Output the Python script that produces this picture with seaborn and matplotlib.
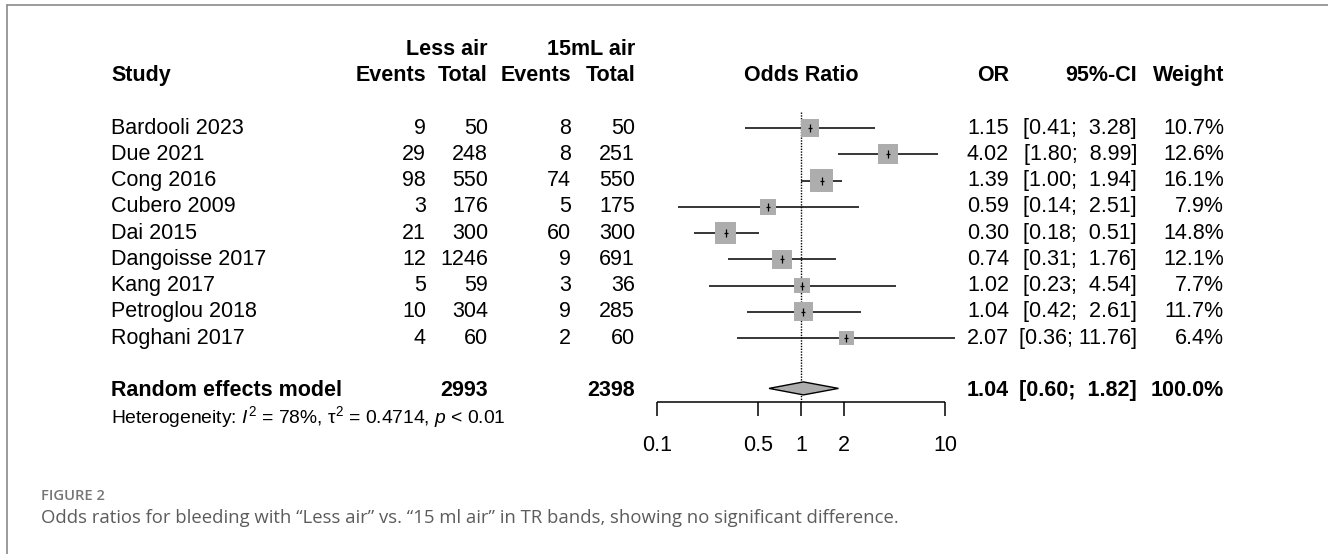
import numpy as np
import pandas as pd
import matplotlib
matplotlib.use("Agg")
import matplotlib.pyplot as plt
import matplotlib.transforms as mtransforms
from matplotlib.lines import Line2D
import seaborn as sns

sns.set_theme(style="white")
plt.rcParams['font.family'] = ['Liberation Sans', 'DejaVu Sans']
plt.rcParams['mathtext.fontset'] = 'custom'
plt.rcParams['mathtext.rm'] = 'Liberation Sans'
plt.rcParams['mathtext.it'] = 'Liberation Sans:italic'

# ---- data ----
studies = ["Bardooli 2023", "Due 2021", "Cong 2016", "Cubero 2009", "Dai 2015",
           "Dangoisse 2017", "Kang 2017", "Petroglou 2018", "Roghani 2017"]
events_less = [9, 29, 98, 3, 21, 12, 5, 10, 4]
total_less = [50, 248, 550, 176, 300, 1246, 59, 304, 60]
events_air = [8, 8, 74, 5, 60, 9, 3, 9, 2]
total_air = [50, 251, 550, 175, 300, 691, 36, 285, 60]
odds_ratio = [1.15, 4.02, 1.39, 0.59, 0.30, 0.74, 1.02, 1.04, 2.07]
ci_low = [0.41, 1.80, 1.00, 0.14, 0.18, 0.31, 0.23, 0.42, 0.36]
ci_high = [3.28, 8.99, 1.94, 2.51, 0.51, 1.76, 4.54, 2.61, 11.76]
weight = [10.7, 12.6, 16.1, 7.9, 14.8, 12.1, 7.7, 11.7, 6.4]

pooled_or, pooled_low, pooled_high = 1.04, 0.60, 1.82
pooled_total_less, pooled_total_air = 2993, 2398
axis_ticks = [0.1, 0.5, 1, 2, 10]
axis_labels = ["0.1", "0.5", "1", "2", "10"]

df = pd.DataFrame({"study": studies, "OR": odds_ratio, "lo": ci_low,
                   "hi": ci_high, "w": weight})
df["row"] = np.arange(len(df))

# ---- layout ----
W, H = 1328, 554
row0_px, row_px = 128, 26.25
fs = 15.5
fig = plt.figure(figsize=(W / 100, H / 100), dpi=100)
ax = fig.add_axes([657 / W, 0, (945 - 657) / W, 1])
ax.set_xscale('log')
ax.set_xlim(0.1, 10)
ax.set_ylim((H - row0_px) / row_px, -row0_px / row_px)
ax.axis('off')
blend = mtransforms.blended_transform_factory(fig.transFigure, ax.transData)


def put(x_px, row, s, ha='right', bold=False, size=fs, **kw):
    ax.text(x_px / W, row, s, transform=blend, ha=ha, va='center', fontsize=size,
            fontweight='bold' if bold else 'normal', color='black', **kw)


# headers
put(488, -3, "Less air", bold=True)
put(635, -3, "15mL air", bold=True)
put(111, -2, "Study", ha='left', bold=True)
put(426, -2, "Events", bold=True)
put(488, -2, "Total", bold=True)
put(571, -2, "Events", bold=True)
put(635, -2, "Total", bold=True)
put(801, -2, "Odds Ratio", ha='center', bold=True)
put(1009, -2, "OR", bold=True)
put(1137, -2, "95%-CI", bold=True)
put(1224, -2, "Weight", bold=True)

for i in range(len(df)):
    put(111, i, studies[i], ha='left')
    put(426, i, str(events_less[i]))
    put(488, i, str(total_less[i]))
    put(571, i, str(events_air[i]))
    put(635, i, str(total_air[i]))
    put(1009, i, f"{odds_ratio[i]:.2f}")
    put(1137, i, f"[{ci_low[i]:.2f}; {ci_high[i]:5.2f}]")
    put(1224, i, f"{weight[i]:.1f}%")

summary_row = len(df) + 1
put(111, summary_row, "Random effects model", ha='left', bold=True)
put(488, summary_row, str(pooled_total_less), bold=True)
put(635, summary_row, str(pooled_total_air), bold=True)
put(1009, summary_row, f"{pooled_or:.2f}", bold=True)
put(1137, summary_row, f"[{pooled_low:.2f}; {pooled_high:5.2f}]", bold=True)
put(1224, summary_row, "100.0%", bold=True)
put(111, summary_row + 1,
    r"Heterogeneity: $\mathit{I}^2$ = 78%, τ$^2$ = 0.4714, $\mathit{p}$ < 0.01",
    ha='left', size=13.9)

# ---- forest ----
axis_row = summary_row + 0.44
tick_len = 14 / row_px
ax.vlines(1, -0.61, axis_row, color='black', lw=1, linestyles=(0, (1, 1)),
          clip_on=False, zorder=1)
ax.hlines(df["row"], df["lo"], df["hi"], color='black', lw=1.1,
          clip_on=False, zorder=2)
side_px = 5.6 * np.sqrt(df["w"])
sns.scatterplot(data=df, x="OR", y="row", marker='s', color='#adadad',
                s=(side_px * 0.72) ** 2, linewidth=0, ax=ax, zorder=3,
                clip_on=False, legend=False)
ax.scatter(df["OR"], df["row"], marker='|', s=(8 * 0.72) ** 2, color='black',
           linewidths=0.9, zorder=4, clip_on=False)
ax.scatter(df["OR"], df["row"], marker='_', s=(5 * 0.72) ** 2, color='black',
           linewidths=0.9, zorder=4, clip_on=False)
dh = 6.5 / row_px
ax.fill([pooled_low, pooled_or, pooled_high, pooled_or],
        [summary_row - 0.08, summary_row - 0.08 - dh, summary_row - 0.08,
         summary_row - 0.08 + dh],
        facecolor='#adadad', edgecolor='black', lw=1, zorder=3, clip_on=False)

# axis
ax.hlines(axis_row, axis_ticks[0], axis_ticks[-1], color='black', lw=1.1,
          clip_on=False)
ax.vlines(axis_ticks, axis_row, axis_row + tick_len, color='black', lw=1.1,
          clip_on=False)
for t, lab in zip(axis_ticks, axis_labels):
    ax.text(t, summary_row + 2.08, lab, ha='center', va='center', fontsize=fs,
            color='black')

# ---- frame + caption ----
fig.add_artist(Line2D([7 / W, 1], [1 - 5 / H, 1 - 5 / H], color='#8a8a8a', lw=1.2))
fig.add_artist(Line2D([7 / W, 7 / W], [0, 1 - 5 / H], color='#8a8a8a', lw=1.2))
fig.text(41 / W, 1 - 496 / H, "FIGURE 2", family=['Open Sans', 'DejaVu Sans'],
         fontsize=10.6, fontweight='semibold', color='#767676', va='center')
fig.text(41 / W, 1 - 518 / H,
         "Odds ratios for bleeding with \u201cLess air\u201d vs. \u201c15 ml air\u201d in TR bands, "
         "showing no significant difference.",
         family=['Open Sans', 'DejaVu Sans'], fontsize=13.3, color='#5c5c5c',
         va='center')

fig.savefig("out.png", dpi=100)
